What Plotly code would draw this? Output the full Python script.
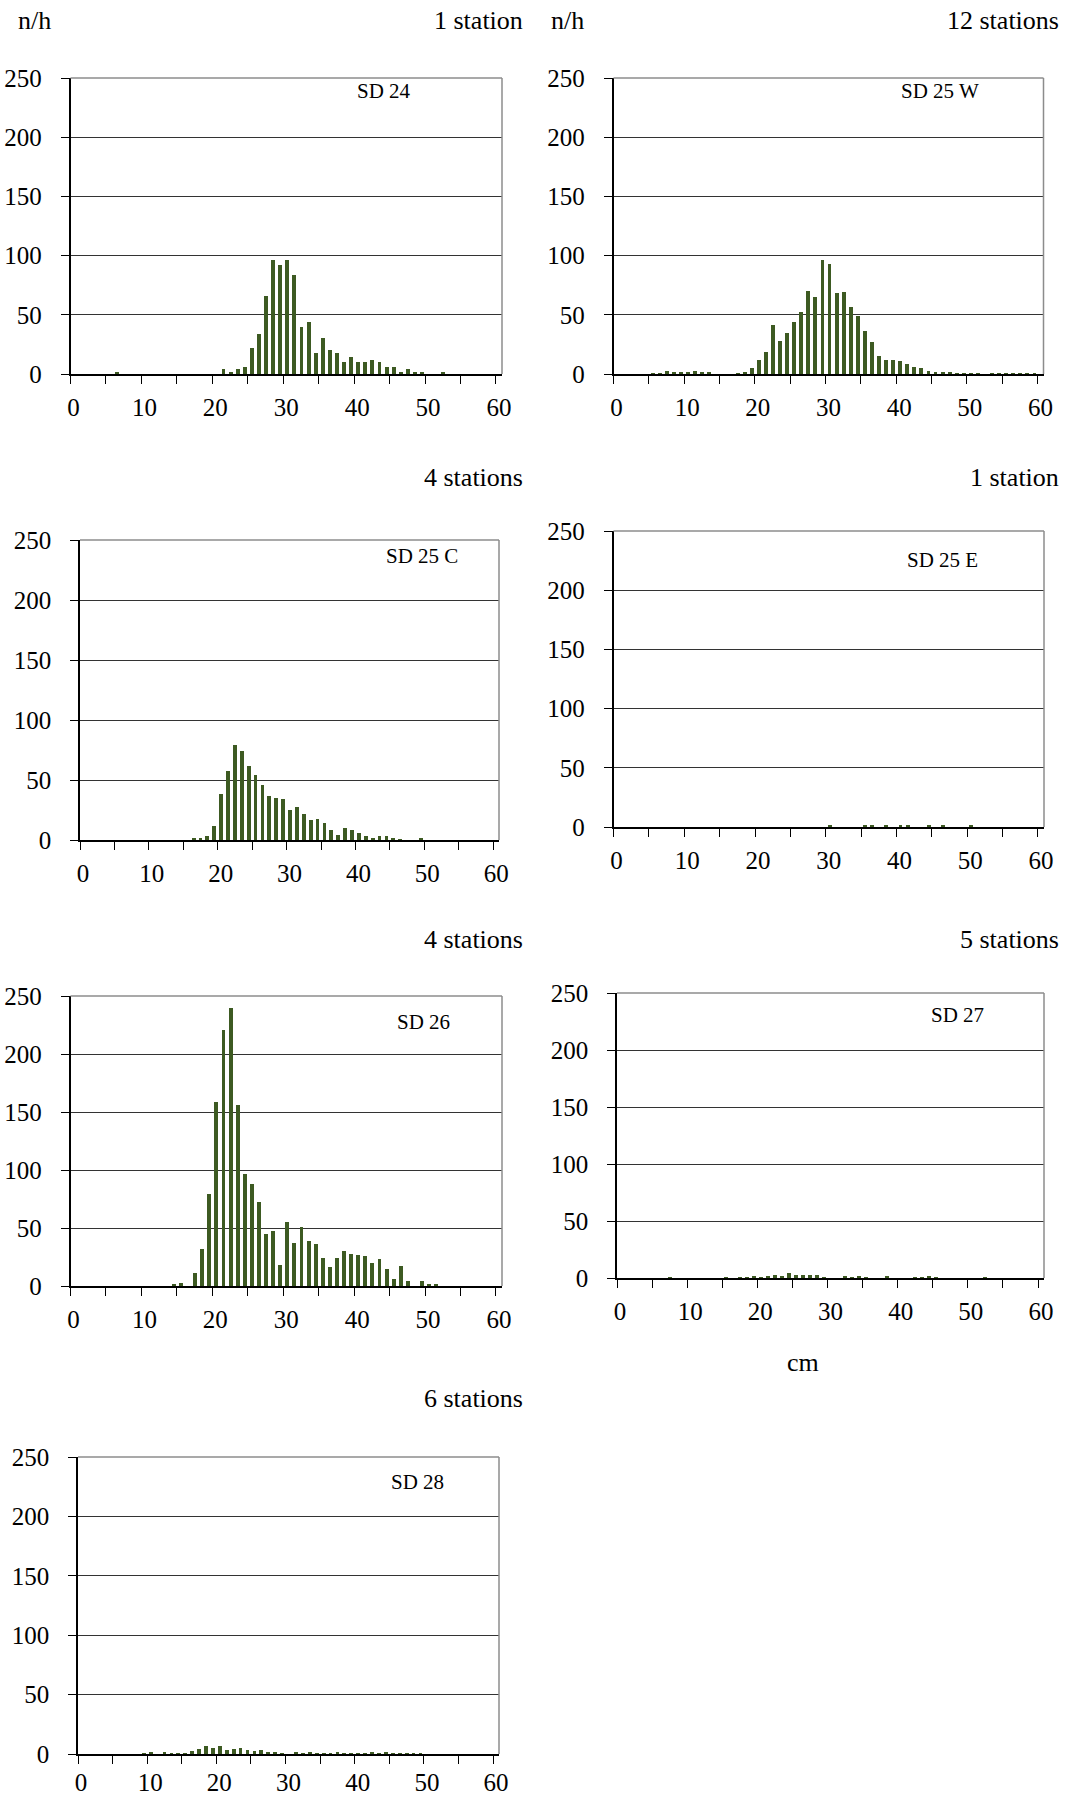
import plotly.graph_objects as go

W, H = 1065, 1797

# ---------------- data (length class in cm, catch n/h) ----------------
sd24_len = [6, 21, 22, 23, 24, 25, 26, 27, 28, 29, 30, 31, 32, 33, 34, 35, 36, 37, 38, 39,
            40, 41, 42, 43, 44, 45, 46, 47, 48, 49, 52]
sd24_val = [2, 4, 2, 4, 6, 22, 34, 66, 96, 92, 96, 84, 40, 44, 18, 30, 20, 18, 10, 14,
            10, 10, 12, 10, 6, 6, 2, 4, 2, 2, 2]

sd25w_len = [5, 6, 7, 8, 9, 10, 11, 12, 13, 17, 18, 19, 20, 21, 22, 23, 24, 25, 26, 27,
             28, 29, 30, 31, 32, 33, 34, 35, 36, 37, 38, 39, 40, 41, 42, 43, 44, 45, 46, 47,
             48, 49, 50, 51, 53, 54, 55, 56, 57, 58, 59]
sd25w_val = [0.5, 0.5, 2.5, 1.5, 2, 1, 2.5, 1, 1, 0.5, 2, 5, 12, 18.5, 41, 28, 35, 44, 52, 70.5,
             65, 96, 93, 68.5, 69, 57, 49, 36.5, 27, 15.5, 12, 12, 11, 8.5, 6, 5, 2.5, 2, 1.5, 2,
             0.5, 0.4, 0.4, 0.4, 0.4, 0.4, 0.4, 0.4, 0.4, 0.4, 0.4]

sd25c_len = [16, 17, 18, 19, 20, 21, 22, 23, 24, 25, 26, 27, 28, 29, 30, 31, 32, 33, 34, 35,
             36, 37, 38, 39, 40, 41, 42, 43, 44, 45, 46, 49]
sd25c_val = [1, 1, 3.6, 11.4, 38.6, 57.8, 79, 74, 62, 54, 46, 37, 35, 34, 25, 27.5, 22, 16.4, 17.2, 14,
             8.3, 4, 10, 8, 5.5, 3.6, 1.7, 3, 3.3, 1, 0.8, 1]

sd25e_len = [30, 35, 36, 38, 40, 41, 44, 46, 50]
sd25e_val = [1.2, 1.2, 1.2, 1.2, 1.2, 1.2, 1.2, 1.2, 1.2]

sd26_len = [14, 15, 17, 18, 19, 20, 21, 22, 23, 24, 25, 26, 27, 28, 29, 30, 31, 32, 33, 34,
            35, 36, 37, 38, 39, 40, 41, 42, 43, 44, 45, 46, 47, 49, 50, 51]
sd26_val = [1, 2.3, 11.2, 32, 79, 158.6, 221, 240, 156, 96.5, 88, 72.7, 44.5, 47.7, 18.4, 55, 37, 50.6, 39, 36,
            24, 16.7, 24, 30, 28, 26.7, 25.6, 19.5, 23, 15, 5.7, 17.2, 4.3, 4.3, 1, 1]

sd27_len = [7, 15, 17, 18, 19, 20, 21, 22, 23, 24, 25, 26, 27, 28, 29, 32, 33, 34, 35, 38,
            42, 43, 44, 45, 52]
sd27_val = [0.5, 0.5, 0.5, 0.5, 1.2, 0.5, 1.5, 2.3, 1.5, 4, 2.6, 2.6, 2.3, 2.9, 0.5, 1, 0.5, 1, 0.5, 1.8,
            0.5, 0.5, 1.2, 0.5, 0.5]

sd28_len = [9, 10, 12, 13, 14, 15, 16, 17, 18, 19, 20, 21, 22, 23, 24, 25, 26, 27, 28, 29,
            31, 32, 33, 34, 35, 36, 37, 38, 39, 40, 41, 42, 43, 44, 45, 46, 47, 48, 49]
sd28_val = [0.5, 2, 1, 0.5, 0.5, 0.5, 2.8, 4, 6.7, 5.3, 7, 3.4, 4, 4.8, 3.1, 2.8, 3.4, 1.7, 1.4, 0.5,
            1.4, 0.8, 1, 0.5, 0.5, 0.8, 1.4, 0.8, 0.5, 0.5, 0.5, 1, 0.8, 1, 0.5, 0.3, 0.3, 0.3, 0.3]

area_names = ["SD 24", "SD 25 W", "SD 25 C", "SD 25 E", "SD 26", "SD 27", "SD 28"]
station_labels = ["1 station", "12 stations", "4 stations", "1 station", "4 stations", "5 stations", "6 stations"]
x_tick_vals = [0, 10, 20, 30, 40, 50, 60]
y_tick_vals = [0, 50, 100, 150, 200, 250]

series = [(sd24_len, sd24_val), (sd25w_len, sd25w_val), (sd25c_len, sd25c_val),
          (sd25e_len, sd25e_val), (sd26_len, sd26_val), (sd27_len, sd27_val),
          (sd28_len, sd28_val)]

# ---------------- layout (pixel boxes: left, top, right, bottom) ----------------
boxes = [
    (70.5, 78, 502, 374),
    (613.5, 78, 1043.5, 374),
    (80, 540, 499, 840),
    (613.5, 531, 1044, 827),
    (70.5, 996, 502, 1286),
    (617, 993, 1044, 1278),
    (78, 1457, 499, 1754),
]
x_standoff = [2, 2, 2, 2, 2, 2, -3]
sd_pos = [(384, 91), (940, 91), (422, 556), (942, 560), (423, 1022), (957, 1015), (417, 1482)]
st_pos = [(525, 21), (1061, 21), (525, 477), (1061, 477), (525, 939), (1061, 939), (525, 1398)]

FONT = "Liberation Serif, Times New Roman, serif"
BAR = "#3d5a22"

fig = go.Figure()
shapes = []
annotations = []

for i, ((lens, vals), box) in enumerate(zip(series, boxes)):
    n = i + 1
    xa = "x" if n == 1 else f"x{n}"
    ya = "y" if n == 1 else f"y{n}"
    fig.add_trace(go.Bar(
        x=[c + 0.5 for c in lens], y=vals, width=0.55,
        marker=dict(color=BAR, line=dict(width=0)),
        xaxis=xa, yaxis=ya, showlegend=False, hoverinfo="x+y",
    ))
    l, t, r, b = box
    xkey = "xaxis" if n == 1 else f"xaxis{n}"
    ykey = "yaxis" if n == 1 else f"yaxis{n}"
    fig.layout[xkey] = dict(
        domain=[l / W, r / W], anchor=ya, range=[0, 60.85],
        tickvals=x_tick_vals, ticktext=[str(v) for v in x_tick_vals],
        ticks="outside", ticklen=8, tickwidth=1.3, tickcolor="black",
        minor=dict(tickvals=[5, 15, 25, 35, 45, 55], ticks="outside", ticklen=8,
                   tickwidth=1.3, tickcolor="black", showgrid=False),
        showline=True, linecolor="black", linewidth=1.5,
        showgrid=False, zeroline=False, fixedrange=True, automargin=False,
        tickfont=dict(family=FONT, size=25, color="black"),
        ticklabelshift=3, ticklabelstandoff=x_standoff[i],
    )
    fig.layout[ykey] = dict(
        domain=[1 - b / H, 1 - t / H], anchor=xa, range=[0, 250],
        tickvals=y_tick_vals,
        ticks="outside", ticklen=8, tickwidth=1.3, tickcolor="black",
        showline=True, linecolor="black", linewidth=1.5,
        showgrid=True, gridcolor="#333333", gridwidth=1.2, zeroline=False,
        fixedrange=True, automargin=False,
        tickfont=dict(family=FONT, size=25, color="black"),
        ticklabelstandoff=14,
    )
    # gray top and right frame lines
    shapes.append(dict(type="line", xref=f"{xa} domain", yref=f"{ya} domain",
                       x0=0, x1=1, y0=1, y1=1, line=dict(color="#8c8c8c", width=1.5)))
    shapes.append(dict(type="line", xref=f"{xa} domain", yref=f"{ya} domain",
                       x0=1, x1=1, y0=0, y1=1, line=dict(color="#8c8c8c", width=1.5)))
    sx, sy = sd_pos[i]
    annotations.append(dict(text=area_names[i], x=sx / W, y=1 - sy / H, xref="paper", yref="paper",
                            xanchor="center", yanchor="middle", showarrow=False,
                            font=dict(family=FONT, size=21, color="black")))
    tx, ty = st_pos[i]
    annotations.append(dict(text=station_labels[i], x=tx / W, y=1 - ty / H, xref="paper", yref="paper",
                            xanchor="right", yanchor="middle", showarrow=False,
                            font=dict(family=FONT, size=26, color="black")))

for (nx, ny) in [(16, 21), (549, 21)]:
    annotations.append(dict(text="n/h", x=nx / W, y=1 - ny / H, xref="paper", yref="paper",
                            xanchor="left", yanchor="middle", showarrow=False,
                            font=dict(family=FONT, size=26, color="black")))
annotations.append(dict(text="cm", x=803 / W, y=1 - 1362 / H, xref="paper", yref="paper",
                        xanchor="center", yanchor="middle", showarrow=False,
                        font=dict(family=FONT, size=26, color="black")))

fig.update_layout(
    width=W, height=H, margin=dict(l=0, r=0, t=0, b=0, pad=0, autoexpand=False),
    paper_bgcolor="white", plot_bgcolor="white",
    bargap=0, shapes=shapes, annotations=annotations,
    font=dict(family=FONT, color="black"),
)

fig.write_html(
    "out.html",
    config={"displayModeBar": False, "staticPlot": False},
    post_script="document.body.style.margin='0';document.body.style.padding='0';"
                "document.body.style.overflow='hidden';"
                "document.documentElement.style.overflow='hidden';",
)
